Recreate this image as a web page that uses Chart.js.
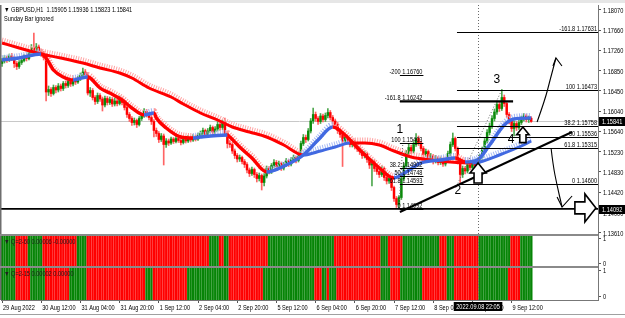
<!DOCTYPE html>
<html>
<head>
<meta charset="utf-8">
<title>GBPUSD,H1</title>
<script src="https://cdn.jsdelivr.net/npm/chart.js@4.4.1/dist/chart.umd.min.js"></script>
<style>
  html, body { margin: 0; padding: 0; background: #fff; }
  #wrap { position: relative; width: 625px; height: 318px; }
</style>
</head>
<body>
<div id="wrap"><canvas id="chart"></canvas></div>
<script>
// H1 bars, bar 0 = 29 Aug 20:00
const opens = [
  1.1700,1.1705,1.1711,1.1708,1.1715,1.1712,1.1700,1.1694,1.1702,1.1706,
  1.1713,1.1710,1.1722,1.1731,1.1726,1.1733,1.1725,1.1720,1.1712,1.1643,
  1.1648,1.1640,1.1652,1.1647,1.1655,1.1650,1.1660,1.1656,1.1664,1.1659,
  1.1667,1.1663,1.1670,1.1676,1.1683,1.1678,1.1641,1.1646,1.1632,1.1624,
  1.1636,1.1629,1.1617,1.1630,1.1622,1.1628,1.1619,1.1625,1.1620,1.1630,
  1.1622,1.1612,1.1598,1.1590,1.1582,1.1586,1.1578,1.1590,1.1596,1.1604,
  1.1598,1.1592,1.1584,1.1566,1.1560,1.1548,1.1555,1.1538,1.1545,1.1541,
  1.1549,1.1544,1.1550,1.1546,1.1542,1.1548,1.1545,1.1551,1.1547,1.1553,
  1.1549,1.1556,1.1560,1.1566,1.1558,1.1565,1.1572,1.1563,1.1569,1.1578,
  1.1572,1.1581,1.1560,1.1540,1.1538,1.1525,1.1516,1.1509,1.1512,1.1504,
  1.1498,1.1487,1.1480,1.1488,1.1478,1.1470,1.1476,1.1462,1.1475,1.1490,
  1.1484,1.1496,1.1502,1.1494,1.1500,1.1491,1.1498,1.1505,1.1499,1.1507,
  1.1512,1.1506,1.1518,1.1540,1.1552,1.1548,1.1565,1.1585,1.1598,1.1590,
  1.1584,1.1595,1.1588,1.1596,1.1602,1.1592,1.1585,1.1578,1.1566,1.1558,
  1.1545,1.1552,1.1547,1.1538,1.1543,1.1535,1.1530,1.1524,1.1516,1.1520,
  1.1508,1.1497,1.1503,1.1490,1.1484,1.1478,1.1490,1.1472,1.1465,1.1470,
  1.1452,1.1430,1.1418,1.1432,1.1470,1.1495,1.1520,1.1532,1.1525,1.1538,
  1.1550,1.1541,1.1530,1.1518,1.1524,1.1510,1.1515,1.1505,1.1511,1.1502,
  1.1508,1.1499,1.1505,1.1520,1.1538,1.1550,1.1530,1.1505,1.1478,1.1490,
  1.1485,1.1497,1.1492,1.1500,1.1496,1.1505,1.1512,1.1528,1.1545,1.1562,
  1.1575,1.1590,1.1603,1.1618,1.1610,1.1632,1.1620,1.1598,1.1585,1.1570,
  1.1580,1.1572,1.1582,1.1590,1.1595,1.1588,1.15905
];
const highs = [
  1.1710,1.1716,1.1715,1.1719,1.1720,1.1715,1.1704,1.1706,1.1711,1.1718,
  1.1717,1.1726,1.1738,1.1761,1.1740,1.1737,1.1729,1.1724,1.1716,1.1655,
  1.1652,1.1657,1.1656,1.1660,1.1659,1.1664,1.1665,1.1668,1.1668,1.1671,
  1.1672,1.1675,1.1681,1.1691,1.1688,1.1682,1.1652,1.1650,1.1636,1.1641,
  1.1640,1.1633,1.1635,1.1634,1.1633,1.1632,1.1631,1.1629,1.1635,1.1633,
  1.1626,1.1615,1.1602,1.1594,1.1591,1.1589,1.1594,1.1601,1.1610,1.1608,
  1.1602,1.1596,1.1588,1.1571,1.1564,1.1560,1.1559,1.1550,1.1549,1.1553,
  1.1552,1.1555,1.1554,1.1550,1.1552,1.1551,1.1556,1.1555,1.1558,1.1557,
  1.1561,1.1565,1.1571,1.1569,1.1570,1.1577,1.1575,1.1574,1.1584,1.1582,
  1.1587,1.1591,1.1564,1.1546,1.1542,1.1529,1.1520,1.1517,1.1515,1.1508,
  1.1502,1.1491,1.1493,1.1491,1.1482,1.1481,1.1479,1.1480,1.1495,1.1494,
  1.1500,1.1508,1.1506,1.1505,1.1503,1.1502,1.1510,1.1508,1.1512,1.1517,
  1.1515,1.1523,1.1545,1.1558,1.1557,1.1570,1.1590,1.1611,1.1603,1.1594,
  1.1600,1.1599,1.1601,1.1610,1.1606,1.1596,1.1589,1.1582,1.1570,1.1562,
  1.1557,1.1556,1.1551,1.1548,1.1547,1.1539,1.1534,1.1528,1.1525,1.1523,
  1.1512,1.1508,1.1507,1.1494,1.1488,1.1495,1.1493,1.1476,1.1476,1.1473,
  1.1455,1.1434,1.1436,1.1474,1.1500,1.1526,1.15403,1.1537,1.1544,1.1560,
  1.1555,1.1545,1.1534,1.1529,1.1527,1.1520,1.1518,1.1516,1.1514,1.1513,
  1.1511,1.1510,1.1525,1.1543,1.1561,1.1553,1.1533,1.1508,1.1495,1.1494,
  1.1502,1.1501,1.1505,1.1504,1.1510,1.1518,1.1533,1.1550,1.1568,1.1581,
  1.1596,1.1609,1.1625,1.1623,1.1648,1.1637,1.1624,1.1602,1.1589,1.1585,
  1.1584,1.1587,1.1595,1.1600,1.1599,1.1595,1.15936
];
const lows = [
  1.1694,1.1701,1.1702,1.1704,1.1706,1.1692,1.1688,1.1690,1.1698,1.1703,
  1.1705,1.1707,1.1719,1.1721,1.1722,1.1720,1.1714,1.1707,1.1625,1.1636,
  1.1634,1.1637,1.1641,1.1643,1.1645,1.1646,1.1651,1.1652,1.1654,1.1655,
  1.1658,1.1660,1.1666,1.1672,1.1672,1.1637,1.1634,1.1627,1.1618,1.1620,
  1.1624,1.1605,1.1613,1.1617,1.1618,1.1614,1.1615,1.1615,1.1617,1.1617,
  1.1607,1.1592,1.1584,1.1576,1.1577,1.1572,1.1575,1.1586,1.1592,1.1593,
  1.1587,1.1578,1.1553,1.1554,1.1542,1.1544,1.1497,1.1532,1.1536,1.1538,
  1.1540,1.1541,1.1542,1.1537,1.1539,1.1541,1.1542,1.1543,1.1544,1.1545,
  1.1546,1.1552,1.1556,1.1552,1.1555,1.1561,1.1557,1.1559,1.1565,1.1566,
  1.1568,1.1555,1.1531,1.1532,1.1520,1.1510,1.1503,1.1504,1.1499,1.1492,
  1.1481,1.1474,1.1476,1.1472,1.1463,1.1465,1.1447,1.1455,1.1471,1.1479,
  1.1480,1.1492,1.1489,1.1490,1.1486,1.1487,1.1494,1.1494,1.1495,1.1503,
  1.1501,1.1503,1.1514,1.1536,1.1542,1.1545,1.1561,1.1580,1.1584,1.1578,
  1.1580,1.1583,1.1584,1.1591,1.1587,1.1579,1.1572,1.1560,1.1552,1.1494,
  1.1540,1.1541,1.1533,1.1533,1.1529,1.1524,1.1518,1.1510,1.1511,1.1502,
  1.1490,1.1455,1.1484,1.1478,1.1472,1.1474,1.1466,1.1459,1.1460,1.1446,
  1.1424,1.1412,1.14092,1.1428,1.1466,1.1490,1.1514,1.1519,1.1521,1.1534,
  1.1536,1.1525,1.1512,1.1514,1.1505,1.1506,1.1499,1.1501,1.1497,1.1498,
  1.1494,1.1495,1.1502,1.1516,1.1534,1.1525,1.1499,1.1460,1.1472,1.1479,
  1.1481,1.1487,1.1488,1.1491,1.1492,1.1501,1.1508,1.1524,1.1541,1.1557,
  1.1570,1.1585,1.1598,1.1604,1.1606,1.1614,1.1592,1.1579,1.1564,1.1555,
  1.1566,1.1568,1.1578,1.1585,1.1583,1.1582,1.15823
];
const closes = [
  1.1705,1.1711,1.1708,1.1715,1.1712,1.1700,1.1694,1.1702,1.1706,1.1713,
  1.1710,1.1722,1.1731,1.1726,1.1733,1.1725,1.1720,1.1712,1.1643,1.1648,
  1.1640,1.1652,1.1647,1.1655,1.1650,1.1660,1.1656,1.1664,1.1659,1.1667,
  1.1663,1.1670,1.1676,1.1683,1.1678,1.1641,1.1646,1.1632,1.1624,1.1636,
  1.1629,1.1617,1.1630,1.1622,1.1628,1.1619,1.1625,1.1620,1.1630,1.1622,
  1.1612,1.1598,1.1590,1.1582,1.1586,1.1578,1.1590,1.1596,1.1604,1.1598,
  1.1592,1.1584,1.1566,1.1560,1.1548,1.1555,1.1538,1.1545,1.1541,1.1549,
  1.1544,1.1550,1.1546,1.1542,1.1548,1.1545,1.1551,1.1547,1.1553,1.1549,
  1.1556,1.1560,1.1566,1.1558,1.1565,1.1572,1.1563,1.1569,1.1578,1.1572,
  1.1581,1.1560,1.1540,1.1538,1.1525,1.1516,1.1509,1.1512,1.1504,1.1498,
  1.1487,1.1480,1.1488,1.1478,1.1470,1.1476,1.1462,1.1475,1.1490,1.1484,
  1.1496,1.1502,1.1494,1.1500,1.1491,1.1498,1.1505,1.1499,1.1507,1.1512,
  1.1506,1.1518,1.1540,1.1552,1.1548,1.1565,1.1585,1.1598,1.1590,1.1584,
  1.1595,1.1588,1.1596,1.1602,1.1592,1.1585,1.1578,1.1566,1.1558,1.1545,
  1.1552,1.1547,1.1538,1.1543,1.1535,1.1530,1.1524,1.1516,1.1520,1.1508,
  1.1497,1.1503,1.1490,1.1484,1.1478,1.1490,1.1472,1.1465,1.1470,1.1452,
  1.1430,1.1418,1.1432,1.1470,1.1495,1.1520,1.1532,1.1525,1.1538,1.1550,
  1.1541,1.1530,1.1518,1.1524,1.1510,1.1515,1.1505,1.1511,1.1502,1.1508,
  1.1499,1.1505,1.1520,1.1538,1.1550,1.1530,1.1505,1.1478,1.1490,1.1485,
  1.1497,1.1492,1.1500,1.1496,1.1505,1.1512,1.1528,1.1545,1.1562,1.1575,
  1.1590,1.1603,1.1618,1.1610,1.1632,1.1620,1.1598,1.1585,1.1570,1.1580,
  1.1572,1.1582,1.1590,1.1595,1.1588,1.1590,1.15841
];

// moving averages, sampled by eye along the drawn lines
const slowMaBars = [0,7,16,24,33,40,48,53,60,69,74,81,88,94,101,108,115,123,130,136,142,148,154,160,167,175,183,192,195,203,212,216];
const slowMaValues = [1.1741,1.1731,1.1719,1.1711,1.1701,1.1691,1.1681,1.1671,1.1651,1.1633,1.1619,1.1601,1.1587,1.1573,1.1563,1.1553,1.1537,1.1517,1.1525,1.1533,1.1541,1.1541,1.1537,1.1525,1.1513,1.1507,1.1503,1.1501,1.1503,1.1517,1.1535,1.1545];
const fastMaBars = [0,7,16,18,21,25,29,31,35,36,40,44,49,53,58,62,63,67,73,78,81,92,93,97,102,108,116,123,129,135,140,146,154,160,165,171,179,185,189,194,199,205,209,216];
const fastMaValues = [1.1707,1.1711,1.1719,1.1711,1.1687,1.1673,1.1667,1.1669,1.1673,1.1671,1.1651,1.1641,1.1627,1.1611,1.1597,1.1601,1.1591,1.1571,1.1553,1.1551,1.1553,1.1557,1.1553,1.1533,1.1511,1.1483,1.1497,1.1517,1.1547,1.1573,1.1557,1.1527,1.1491,1.1471,1.1483,1.1501,1.1507,1.1511,1.1503,1.1507,1.1537,1.1577,1.1589,1.1591];

// sub-window colour runs, bar counts, starting green and alternating
const q60Runs = [6,5,6,14,4,50,4,2,2,16,27,19,3,6,15,3,3,10,13,4,5];
const q15Runs = [6,6,6,10,7,24,3,14,17,14,21,3,2,1,3,18,4,4,9,10,3,10,12,5,5];

// axes
const priceTicks = [1.18070,1.17660,1.17260,1.16850,1.16450,1.16040,1.15640,1.15230,1.14830,1.14420,1.14000,1.13610];
const timeTickBars = [0,16,32,48,64,80,96,112,128,144,160,176,192,208];
const timeTickLabels = ['29 Aug 2022','30 Aug 12:00','31 Aug 04:00','31 Aug 20:00','1 Sep 12:00','2 Sep 04:00','2 Sep 20:00','5 Sep 12:00','6 Sep 04:00','6 Sep 20:00','7 Sep 12:00','8 Sep 04:00','8 Sep 20:00','9 Sep 12:00'];

// drawn objects (bar index / price)
const leftFibLevels = ['-200','-161.8','100','38.2','50','61.8','0'];
const leftFibPrices = [1.16760,1.16242,1.15403,1.14902,1.14748,1.14593,1.14092];
const leftFibSpan = [162.4, 172];
const rightFibLevels = ['-161.8','100','38.2','50','61.8','0'];
const rightFibPrices = [1.17631,1.16473,1.15758,1.15536,1.15315,1.14600];
const rightFibStart = 185.7;
const leftFibDiagBars = [162, 163.6], leftFibDiagPrices = [1.14092, 1.15403];
const rightFibDiagBars = [186, 204], rightFibDiagPrices = [1.14600, 1.16473];
const markLinePrices = [1.16242, 1.14092];
const markLineFrom = [162.4, -0.41];
const markLineTo = [208.6, 243.3];
const trendBars = [162.4, 232.7], trendPrices = [1.1403, 1.1563];
const upCurveBars = [218.4, 221.6, 223.7, 226.1], upCurvePrices = [1.1583, 1.1627, 1.1667, 1.1711];
const downCurveBars = [224.1, 224.9, 226.5, 228.6], downCurvePrices = [1.1531, 1.1497, 1.1457, 1.1413];
const upArrowBars = [194.3, 212.6], upArrowPrices = [1.1501, 1.1573];
const rightArrowBar = 242.4, rightArrowPrice = 1.14092;
const waveLabels = ['1','2','3','4'];
const waveBars = [162.4, 186.1, 202, 207.8];
const wavePrices = [1.1567, 1.1445, 1.1667, 1.1547];
const crossBar = 194.3;
const crossTime = '2022.09.08 22:05';

const FONT = '"Liberation Sans", Arial, sans-serif';
const RED = '#ff0000', GREEN = '#0a8a0a', BLUE = '#4169e1';
const bidPrice = closes[closes.length - 1];

function expandRuns(runs) {
    const out = [];
    runs.forEach((n, k) => { for (let j = 0; j < n; j++) out.push(k % 2 === 0 ? 1 : 0); });
    return out;
}
const q60 = expandRuns(q60Runs);
const q15 = expandRuns(q15Runs);

const idx = closes.map((_, i) => i);
const isUp = i => closes[i] >= opens[i];
const maPoints = (bars, vals) => bars.map((b, k) => ({ x: b, y: vals[k] }));
const dirColor = (up, down) => c => (c.p1.parsed.y > c.p0.parsed.y ? up : down);

function maDataset(bars, vals, width, up, down, order, shiftY, dash) {
    return {
        type: 'line',
        data: maPoints(bars, vals),
        yAxisID: 'y',
        borderColor: down,
        borderWidth: width,
        borderDash: dash || [],
        pointRadius: 0,
        fill: false,
        cubicInterpolationMode: 'monotone',
        segment: { borderColor: dirColor(up, down) },
        shiftY: shiftY || 0,
        order: order,
    };
}

function subBars(axis, states, thick, up, down, order) {
    return {
        type: 'bar',
        data: idx.map(i => ({ x: i, y: 1 })),
        yAxisID: axis,
        grouped: false,
        barThickness: thick,
        backgroundColor: c => (states[c.dataIndex] ? up : down),
        order: order,
    };
}

// MT4 text is narrow; squeeze the glyphs horizontally
function narrowText(ctx, s, x, y, align) {
    ctx.save();
    ctx.translate(x, y);
    ctx.scale(0.8, 1);
    ctx.textAlign = align || 'left';
    ctx.fillText(s, 0, 0);
    ctx.restore();
}

// nudges the MA "ribbons" a few pixels up
const shiftPlugin = {
    id: 'shift',
    beforeDatasetDraw(chart, args) {
        const s = chart.data.datasets[args.index].shiftY;
        if (s) { chart.ctx.save(); chart.ctx.translate(0, s); }
    },
    afterDatasetDraw(chart, args) {
        if (chart.data.datasets[args.index].shiftY) chart.ctx.restore();
    },
};

function upArrow(ctx, tx, ty, s) {
    ctx.beginPath();
    ctx.moveTo(tx, ty);
    ctx.lineTo(tx + 8 * s, ty + 10 * s);
    ctx.lineTo(tx + 4 * s, ty + 10 * s);
    ctx.lineTo(tx + 4 * s, ty + 20 * s);
    ctx.lineTo(tx - 4 * s, ty + 20 * s);
    ctx.lineTo(tx - 4 * s, ty + 10 * s);
    ctx.lineTo(tx - 8 * s, ty + 10 * s);
    ctx.closePath();
    ctx.fill();
    ctx.stroke();
}

function curve(ctx, pts) {
    ctx.beginPath();
    ctx.moveTo(pts[0][0], pts[0][1]);
    for (let k = 1; k < pts.length - 1; k++) {
        const mx = (pts[k][0] + pts[k + 1][0]) / 2, my = (pts[k][1] + pts[k + 1][1]) / 2;
        ctx.quadraticCurveTo(pts[k][0], pts[k][1], mx, my);
    }
    ctx.lineTo(pts[pts.length - 1][0], pts[pts.length - 1][1]);
    ctx.stroke();
}

const overlay = {
    id: 'mt4Overlay',
    beforeDatasetsDraw(chart) {
        const { ctx, scales: { x, y } } = chart;
        const yb = Math.round(y.getPixelForValue(bidPrice)) + 0.5;
        ctx.save();
        ctx.strokeStyle = '#c8c8c8';
        ctx.lineWidth = 1;
        ctx.beginPath(); ctx.moveTo(x.left, yb); ctx.lineTo(x.right, yb); ctx.stroke();
        ctx.restore();
    },
    afterDatasetsDraw(chart) {
        const { ctx, scales: { x, y, y2 } } = chart;
        const X = b => x.getPixelForValue(b), Y = p => y.getPixelForValue(p);
        ctx.save();

        // crosshair + fibo diagonals
        ctx.lineWidth = 1;
        ctx.setLineDash([1, 2]);
        ctx.strokeStyle = '#6a6a6a';
        const cx = Math.round(X(crossBar)) + 0.5;
        ctx.beginPath(); ctx.moveTo(cx, y.top); ctx.lineTo(cx, y2.bottom); ctx.stroke();
        [[leftFibDiagBars, leftFibDiagPrices], [rightFibDiagBars, rightFibDiagPrices]].forEach(([bs, ps]) => {
            ctx.beginPath(); ctx.moveTo(X(bs[0]), Y(ps[0])); ctx.lineTo(X(bs[1]), Y(ps[1])); ctx.stroke();
        });
        ctx.setLineDash([]);

        // fibo levels
        ctx.strokeStyle = '#000';
        ctx.fillStyle = '#000';
        ctx.font = '7px ' + FONT;
        ctx.textBaseline = 'alphabetic';
        leftFibPrices.forEach((p, k) => {
            const yy = Math.round(Y(p)) + 0.5;
            ctx.beginPath(); ctx.moveTo(X(leftFibSpan[0]), yy); ctx.lineTo(X(leftFibSpan[1]), yy); ctx.stroke();
            narrowText(ctx, leftFibLevels[k] + ' ' + p.toFixed(5), X(leftFibSpan[1]) - 1, yy - 1.5, 'right');
        });
        rightFibPrices.forEach((p, k) => {
            const yy = Math.round(Y(p)) + 0.5;
            ctx.beginPath(); ctx.moveTo(X(rightFibStart), yy); ctx.lineTo(x.right, yy); ctx.stroke();
            narrowText(ctx, rightFibLevels[k] + ' ' + p.toFixed(5), x.right - 1, yy - 1.5, 'right');
        });

        // horizontal lines and trend line
        const widths = [2.2, 1.6];
        markLinePrices.forEach((p, k) => {
            ctx.lineWidth = widths[k];
            const yy = Y(p);
            ctx.beginPath(); ctx.moveTo(X(markLineFrom[k]), yy); ctx.lineTo(Math.min(X(markLineTo[k]), x.right), yy); ctx.stroke();
        });
        ctx.lineWidth = 2;
        ctx.beginPath(); ctx.moveTo(X(trendBars[0]), Y(trendPrices[0])); ctx.lineTo(X(trendBars[1]), Y(trendPrices[1])); ctx.stroke();

        // hand-drawn arrows
        ctx.lineWidth = 1.1;
        const upPts = upCurveBars.map((b, k) => [X(b), Y(upCurvePrices[k])]);
        curve(ctx, upPts);
        let t = upPts[upPts.length - 1];
        ctx.beginPath(); ctx.moveTo(t[0] - 3, t[1] + 8); ctx.lineTo(t[0], t[1]); ctx.lineTo(t[0] + 6, t[1] + 8); ctx.stroke();
        const dnPts = downCurveBars.map((b, k) => [X(b), Y(downCurvePrices[k])]);
        curve(ctx, dnPts);
        t = dnPts[dnPts.length - 1];
        ctx.beginPath(); ctx.moveTo(t[0] - 5, t[1] - 10); ctx.lineTo(t[0], t[1]); ctx.lineTo(t[0] + 10, t[1] - 11); ctx.stroke();

        // hollow arrows
        ctx.fillStyle = '#fff';
        ctx.lineWidth = 1.6;
        upArrowBars.forEach((b, k) => upArrow(ctx, X(b), Y(upArrowPrices[k]), k === 0 ? 1 : 0.78));
        const rx = X(rightArrowBar), ry = Y(rightArrowPrice) - 1;
        ctx.beginPath();
        ctx.moveTo(rx, ry);
        ctx.lineTo(rx - 11, ry - 14);
        ctx.lineTo(rx - 11, ry - 6);
        ctx.lineTo(rx - 21, ry - 6);
        ctx.lineTo(rx - 21, ry + 6);
        ctx.lineTo(rx - 11, ry + 6);
        ctx.lineTo(rx - 11, ry + 14);
        ctx.closePath();
        ctx.fill();
        ctx.stroke();

        // wave numbers
        ctx.fillStyle = '#000';
        ctx.font = '12px "Liberation Sans", Arial, sans-serif';
        ctx.textAlign = 'center';
        ctx.textBaseline = 'middle';
        waveLabels.forEach((s, k) => ctx.fillText(s, X(waveBars[k]), Y(wavePrices[k])));
        ctx.restore();
    },
    afterDraw(chart) {
        const { ctx, scales: { x, y, y1, y2 } } = chart;
        const Y = p => y.getPixelForValue(p);
        ctx.save();
        // window frame and separators
        ctx.fillStyle = '#e6e6e6';
        ctx.fillRect(0, 0, chart.width, 3);
        ctx.fillStyle = '#6e6e6e';
        ctx.fillRect(0, y.top, 1.5, y2.bottom - y.top);
        ctx.fillStyle = '#8a8a8a';
        ctx.fillRect(0, y.bottom - 1, x.right, 2);
        ctx.fillRect(0, y1.bottom - 1, x.right, 2);
        ctx.fillStyle = '#a0a0a0';
        ctx.fillRect(0, 314, chart.width, 1);

        ctx.font = '7px ' + FONT;
        ctx.textBaseline = 'alphabetic';
        ctx.fillStyle = '#000';

        // window titles
        narrowText(ctx, '\u25BC GBPUSD,H1  1.15905 1.15936 1.15823 1.15841', 4, 12);
        narrowText(ctx, 'Sunday Bar ignored', 4, 21);
        ctx.fillStyle = '#202020';
        narrowText(ctx, '\u25BC Q=2-60 0.00006 -0.00000', 4, y.bottom + 9);
        narrowText(ctx, '\u25BC Q=2-15 0.00002 0.00000', 4, y1.bottom + 9);

        // axis labels
        ctx.fillStyle = '#000';
        const lx = x.right + 5;
        priceTicks.forEach(v => narrowText(ctx, v.toFixed(5), lx, Y(v) + 2.5));
        [y1, y2].forEach(s => {
            narrowText(ctx, '1', lx, s.getPixelForValue(0.9) + 2.5);
            narrowText(ctx, '0', lx, s.getPixelForValue(0.1) + 2.5);
        });
        timeTickBars.forEach((b, k) => narrowText(ctx, timeTickLabels[k], x.getPixelForValue(b) + 1, x.top + 10));

        // price labels on the axis
        [bidPrice, markLinePrices[1]].forEach(p => {
            const yy = Math.round(Y(p));
            ctx.fillStyle = '#000';
            ctx.fillRect(x.right + 1, yy - 4, chart.width - x.right - 1, 9);
            ctx.fillStyle = '#fff';
            narrowText(ctx, p.toFixed(5), x.right + 4, yy + 3);
        });

        // crosshair time box
        const cx = x.getPixelForValue(crossBar);
        const w = ctx.measureText(crossTime).width * 0.8 + 5;
        ctx.fillStyle = '#000';
        ctx.fillRect(cx - w / 2, x.top + 2, w, 9);
        ctx.fillStyle = '#fff';
        narrowText(ctx, crossTime, cx, x.top + 9, 'center');
        ctx.restore();
    },
};

const hiddenTicks = { display: false };

new Chart(document.getElementById('chart'), {
    data: {
        datasets: [
            {
                type: 'bar',
                data: idx.map(i => ({ x: i, y: [lows[i], highs[i]] })),
                yAxisID: 'y',
                grouped: false,
                barThickness: 1,
                backgroundColor: c => (isUp(c.dataIndex) ? '#4fa84f' : '#ff6464'),
                order: 20,
            },
            {
                type: 'bar',
                data: idx.map(i => ({ x: i, y: [opens[i], closes[i]] })),
                yAxisID: 'y',
                grouped: false,
                barThickness: 1.8,
                minBarLength: 1,
                backgroundColor: c => (isUp(c.dataIndex) ? GREEN : RED),
                order: 19,
            },
            maDataset(slowMaBars, slowMaValues, 5, '#a9bcf5', '#ffa4a4', 18, -3, [1, 1.45]),
            maDataset(fastMaBars, fastMaValues, 6, '#a3b6f3', '#ff9a9a', 17, -2, [1, 1.45]),
            maDataset(slowMaBars, slowMaValues, 3, BLUE, RED, 16),
            maDataset(fastMaBars, fastMaValues, 3.4, BLUE, RED, 15),
            subBars('y1', q60, 2.5, '#9fd49f', '#ff9e9e', 12),
            subBars('y1', q60, 1.5, '#078407', '#ff0000', 11),
            subBars('y2', q15, 2.5, '#9fd49f', '#ff9e9e', 12),
            subBars('y2', q15, 1.5, '#078407', '#ff0000', 11),
        ],
    },
    options: {
        responsive: true,
        maintainAspectRatio: false,
        animation: false,
        devicePixelRatio: 1,
        layout: { padding: { left: 1, top: 5, right: 0, bottom: 5 } },
        plugins: { legend: { display: false }, tooltip: { enabled: false } },
        scales: {
            x: {
                type: 'linear',
                position: 'bottom',
                offset: false,
                min: -0.41,
                max: 243.26,
                afterBuildTicks: s => { s.ticks = timeTickBars.map(v => ({ value: v })); },
                afterFit: s => { s.height = 13; },
                ticks: hiddenTicks,
                grid: { offset: false, drawOnChartArea: false, tickLength: 3, color: '#555' },
                border: { color: '#777' },
            },
            y: {
                type: 'linear',
                position: 'right',
                stack: 'panes',
                stackWeight: 230,
                min: 1.1357,
                max: 1.1817,
                afterBuildTicks: s => { s.ticks = priceTicks.map(v => ({ value: v })); },
                afterFit: s => { s.width = 27; },
                ticks: hiddenTicks,
                grid: { drawOnChartArea: false, tickLength: 3, color: '#555' },
                border: { color: '#777' },
            },
            y1: {
                type: 'linear',
                position: 'right',
                stack: 'panes',
                stackWeight: 32,
                min: 0,
                max: 1,
                afterBuildTicks: s => { s.ticks = [{ value: 0.1 }, { value: 0.9 }]; },
                afterFit: s => { s.width = 27; },
                ticks: hiddenTicks,
                grid: { drawOnChartArea: false, tickLength: 3, color: '#555' },
                border: { color: '#777' },
            },
            y2: {
                type: 'linear',
                position: 'right',
                stack: 'panes',
                stackWeight: 33,
                min: 0,
                max: 1,
                afterBuildTicks: s => { s.ticks = [{ value: 0.1 }, { value: 0.9 }]; },
                afterFit: s => { s.width = 27; },
                ticks: hiddenTicks,
                grid: { drawOnChartArea: false, tickLength: 3, color: '#555' },
                border: { color: '#777' },
            },
        },
    },
    plugins: [shiftPlugin, overlay],
});
</script>
</body>
</html>
